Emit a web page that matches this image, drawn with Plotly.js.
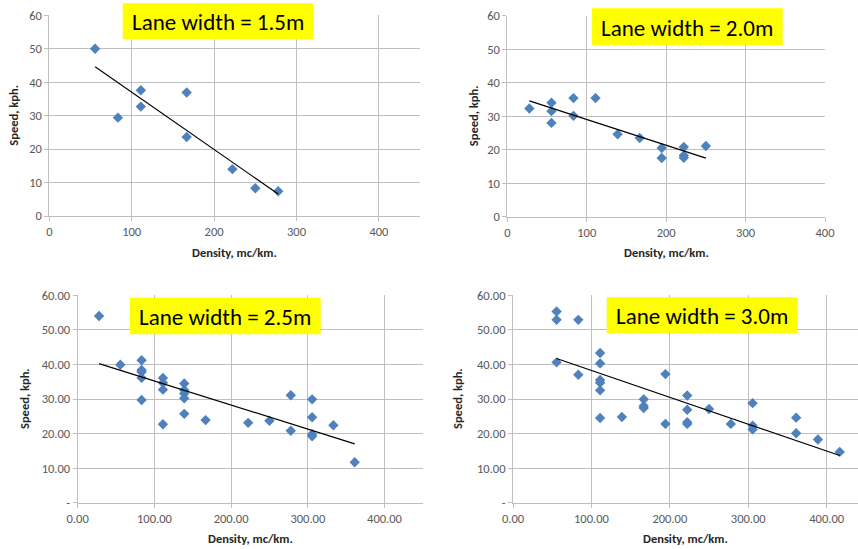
<!DOCTYPE html>
<html>
<head>
<meta charset="utf-8">
<script src="https://cdn.plot.ly/plotly-3.0.1.min.js"></script>
<style>
  html, body { margin: 0; padding: 0; background: #ffffff; }
  #chart { width: 858px; height: 549px; }
</style>
</head>
<body>
<div id="chart"></div>
<script>
// ---- Data ----
const panelTitles = ["Lane width = 1.5m", "Lane width = 2.0m", "Lane width = 2.5m", "Lane width = 3.0m"];

const density15 = [55.6, 83.3, 111.1, 111.1, 166.7, 166.7, 222.2, 250.0, 277.8];
const speed15   = [50.0, 29.4, 37.6, 32.7, 36.9, 23.6, 14.0, 8.3, 7.4];

const density20 = [27.8, 55.6, 55.6, 55.6, 83.3, 83.3, 111.1, 138.9, 166.7, 194.4, 194.4, 222.2, 222.2, 222.2, 250.0];
const speed20   = [32.3, 34.0, 31.5, 28.0, 35.4, 30.1, 35.4, 24.6, 23.5, 20.5, 17.5, 20.8, 18.3, 17.6, 21.1];

const density25 = [27.8, 55.6, 83.3, 83.3, 83.3, 83.3, 83.3, 111.1, 111.1, 111.1, 111.1, 138.9, 138.9, 138.9, 138.9, 138.9, 166.7, 222.2, 250.0, 277.8, 277.8, 305.6, 305.6, 305.6, 305.6, 333.3, 361.1];
const speed25   = [54.0, 39.9, 41.2, 38.4, 37.8, 36.1, 29.7, 36.1, 34.7, 32.7, 22.7, 34.5, 32.6, 31.6, 30.2, 25.7, 23.9, 23.1, 23.7, 31.1, 20.8, 29.9, 24.7, 19.8, 19.2, 22.4, 11.7];

const density30 = [55.6, 55.6, 55.6, 83.3, 83.3, 111.1, 111.1, 111.1, 111.1, 111.1, 111.1, 138.9, 166.7, 166.7, 166.7, 194.4, 194.4, 222.2, 222.2, 222.2, 222.2, 250.0, 277.8, 305.6, 305.6, 305.6, 361.1, 361.1, 388.9, 416.7];
const speed30   = [55.3, 52.9, 40.6, 52.9, 37.0, 43.3, 40.3, 35.5, 34.7, 32.5, 24.5, 24.8, 29.9, 28.0, 27.4, 37.2, 22.8, 31.0, 26.9, 23.3, 22.8, 27.1, 22.8, 28.8, 22.3, 21.2, 24.6, 20.1, 18.3, 14.7];

const yTickVals = [0, 10, 20, 30, 40, 50, 60];
const yTickText2dp = ["-", "10.00", "20.00", "30.00", "40.00", "50.00", "60.00"];
const xTickVals = [0, 100, 200, 300, 400];
const xTickText2dp = ["0.00", "100.00", "200.00", "300.00", "400.00"];

const yTitle = "Speed, kph.";
const xTitle = "Density, mc/km.";

// ---- Helpers ----
function linearFit(xs, ys) {
  const n = xs.length;
  const mx = xs.reduce((a, b) => a + b, 0) / n;
  const my = ys.reduce((a, b) => a + b, 0) / n;
  let sxy = 0, sxx = 0;
  for (let i = 0; i < n; i++) { sxy += (xs[i] - mx) * (ys[i] - my); sxx += (xs[i] - mx) ** 2; }
  const b = sxy / sxx, a = my - b * mx;
  const x0 = Math.min(...xs), x1 = Math.max(...xs);
  return { x: [x0, x1], y: [a + b * x0, a + b * x1] };
}

const FONT = "Carlito, Lato, 'Liberation Sans', sans-serif";
const GRID = "#BFBFBF";
const TICKC = "#595959";
const MARK = "#4F81BD";

const panels = [
  { xs: density15, ys: speed15, ax: "", dom: { x: [49.3, 420.1], y: [15.3, 216.0] }, xr: [0, 450], fmt: false, box: [122.7, 3.3, 313.3, 39.3], ytx: 14 },
  { xs: density20, ys: speed20, ax: "2", dom: { x: [507.3, 825.0], y: [15.7, 216.7] }, xr: [0, 400], fmt: false, box: [592.0, 8.3, 782.7, 45.0], ytx: 473 },
  { xs: density25, ys: speed25, ax: "3", dom: { x: [77.7, 422.9], y: [295.3, 502.7] }, xr: [0, 450], fmt: true, box: [130.0, 297.7, 320.7, 334.3], ytx: 24 },
  { xs: density30, ys: speed30, ax: "4", dom: { x: [513.0, 858.0], y: [295.3, 502.7] }, xr: [0, 440], fmt: true, box: [606.7, 297.3, 797.7, 333.3], ytx: 457 }
];

const W = 858, H = 549;
const traces = [];
const layout = {
  width: W, height: H,
  margin: { l: 0, r: 0, t: 0, b: 0 },
  paper_bgcolor: "#ffffff", plot_bgcolor: "#ffffff",
  showlegend: false,
  font: { family: FONT, size: 12, color: TICKC },
  shapes: [], annotations: []
};

panels.forEach((p, i) => {
  const xa = "x" + p.ax, ya = "y" + p.ax;
  traces.push({
    type: "scatter", mode: "markers", x: p.xs, y: p.ys, xaxis: xa, yaxis: ya,
    marker: { symbol: "diamond", size: 8, color: MARK, line: { width: 0 } },
    hoverinfo: "x+y"
  });
  const fit = linearFit(p.xs, p.ys);
  traces.push({
    type: "scatter", mode: "lines", x: fit.x, y: fit.y, xaxis: xa, yaxis: ya,
    line: { color: "#000000", width: 1.2 }, hoverinfo: "skip"
  });
  const axisBase = {
    showgrid: true, gridcolor: GRID, gridwidth: 1,
    showline: true, linecolor: GRID, linewidth: 1,
    zeroline: false, ticks: "outside", ticklen: 4, tickcolor: GRID, tickwidth: 1,
    tickfont: { family: FONT, size: 12.5, color: TICKC }, fixedrange: true
  };
  layout["xaxis" + p.ax] = Object.assign({}, axisBase, {
    domain: [p.dom.x[0] / W, p.dom.x[1] / W], range: p.xr, anchor: ya,
    tickmode: "array", tickvals: xTickVals,
    ticktext: p.fmt ? xTickText2dp : xTickVals.map(String)
  });
  layout["yaxis" + p.ax] = Object.assign({}, axisBase, {
    domain: [1 - p.dom.y[1] / H, 1 - p.dom.y[0] / H], range: [0, 60], anchor: xa,
    tickmode: "array", tickvals: yTickVals,
    ticktext: p.fmt ? yTickText2dp : yTickVals.map(String)
  });
  // yellow title box
  const b = p.box;
  layout.shapes.push({
    type: "rect", xref: "paper", yref: "paper", layer: "above",
    x0: b[0] / W, x1: b[2] / W, y0: 1 - b[3] / H, y1: 1 - b[1] / H,
    fillcolor: "#FFFF00", line: { width: 0 }
  });
  layout.annotations.push({
    xref: "paper", yref: "paper", x: (b[0] + b[2]) / 2 / W, y: 1 - ((b[1] + b[3]) / 2 + 1) / H,
    xanchor: "center", yanchor: "middle", showarrow: false,
    text: panelTitles[i], font: { family: FONT, size: 23, color: "#000000" }
  });
  // axis titles
  const cx = (p.dom.x[0] + p.dom.x[1]) / 2;
  layout.annotations.push({
    xref: "paper", yref: "paper", x: cx / W, y: 1 - (p.dom.y[1] + 36) / H,
    xanchor: "center", yanchor: "middle", showarrow: false,
    text: "<b>" + xTitle + "</b>", font: { family: FONT, size: 12.5, color: "#262626" }
  });
  layout.annotations.push({
    xref: "paper", yref: "paper", x: p.ytx / W, y: 1 - ((p.dom.y[0] + p.dom.y[1]) / 2) / H,
    xanchor: "center", yanchor: "middle", showarrow: false, textangle: -90,
    text: "<b>" + yTitle + "</b>", font: { family: FONT, size: 12.5, color: "#262626" }
  });
});

Plotly.newPlot("chart", traces, layout, { staticPlot: true, displayModeBar: false });
</script>
</body>
</html>
